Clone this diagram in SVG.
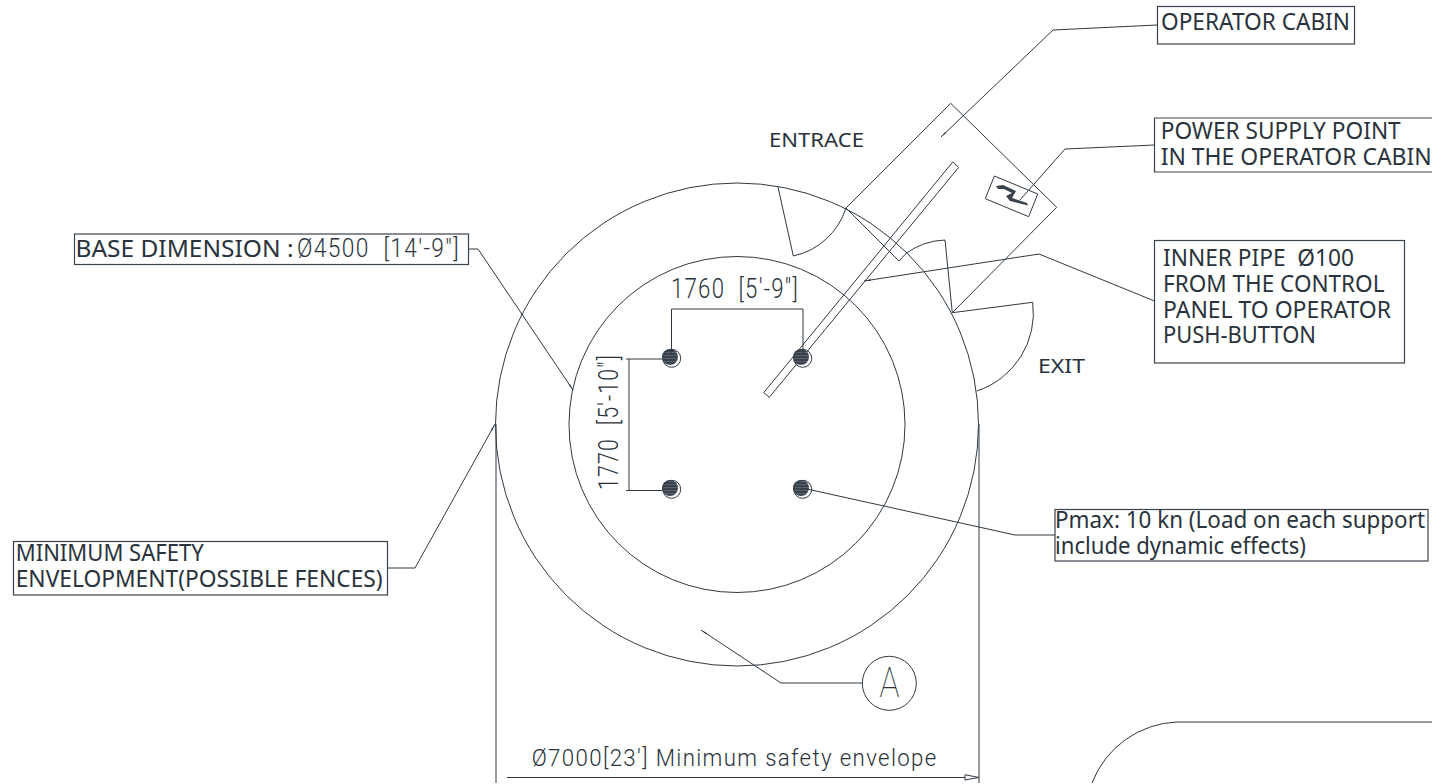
<svg xmlns="http://www.w3.org/2000/svg" width="1432" height="784" viewBox="0 0 1432 784">
<style>
.l{fill:none;stroke:#2f3943;stroke-width:1}
.b{fill:none;stroke:#3a444e;stroke-width:1.2}
.t{font-family:"Noto Sans","DejaVu Sans",sans-serif;font-size:23px;fill:#2a333c}
.i{font-family:Roboto,"Liberation Sans",sans-serif;font-size:27px;font-weight:300;fill:#2a333c;letter-spacing:1.5px}
.h{fill:url(#hatch);stroke:none}
</style>
<defs>
<marker id="tip" markerUnits="userSpaceOnUse" markerWidth="8" markerHeight="6" refX="7" refY="3" orient="auto"><path d="M0 2.2L7 3L0 3.8Z" fill="#2f3943"/></marker>
<marker id="open" markerUnits="userSpaceOnUse" markerWidth="16" markerHeight="8" refX="15" refY="4" orient="auto"><path d="M1 1.2L15 4L1 6.5Z" fill="#fff" stroke="#2f3943"/></marker>
<pattern id="hatch" patternUnits="userSpaceOnUse" width="3" height="3"><rect width="3" height="3" fill="#3a434c"/><rect y="1" width="3" height="1" fill="#59626a"/></pattern>
</defs>
<rect width="1432" height="784" fill="#fff"/>
<g id="base-circles">
<circle class="l" cx="737" cy="424.5" r="241.5"/>
<circle class="l" cx="737" cy="424.5" r="168"/>
</g>
<g id="cabin">
<path class="l" d="M846 208L950.7 103.3L1056.7 207.3L952.3 312.7"/>
<path class="l" d="M846 208L899 261L906.5 253"/>
<path class="l" d="M778 187L793.3 256A71 71 0 0 0 846 208"/>
<path class="l" d="M906.5 253A71 71 0 0 1 945 240L952.3 312.7L1032.7 302.3A82 82 0 0 1 976.7 391"/>
</g>
<g id="pipe"><path class="l" d="M952.7 162L958.7 167.3L769.3 397.3L763.7 392.7Z"/></g>
<g id="power-symbol">
<path class="l" d="M994.3 176L1037.7 194L1028.7 216.7L985.3 198.7Z"/>
<path fill="#3a434c" d="M996 186L1003 185L1016 191L1012 198L1027 203L1028 205.500L1010 201L1006 196L1012 193L1004 189L998 189Z"/>
</g>
<g id="supports">
<g><circle class="h" cx="670" cy="357" r="8"/><circle class="l" cx="671.7" cy="358.3" r="9"/></g>
<g><circle class="h" cx="801" cy="357" r="8"/><circle class="l" cx="802.7" cy="358.3" r="9"/></g>
<g><circle class="h" cx="670" cy="488" r="8"/><circle class="l" cx="671.7" cy="489.3" r="9"/></g>
<g><circle class="h" cx="801" cy="488" r="8"/><circle class="l" cx="802.7" cy="489.3" r="9"/></g>
</g>
<g id="connectors">
<path class="l" d="M1157 25L1053 30L941 137" marker-end="url(#tip)"/>
<path class="l" d="M1154.500 145L1065 149L1020 200"/>
<path class="l" d="M1154.500 301L1039 254L864 281" marker-end="url(#tip)"/>
<path class="l" d="M1055 535L1015 535L807 489"/>
<path class="l" d="M468.500 249L478 249L573 390" marker-end="url(#tip)"/>
<path class="l" d="M387.500 568L415 568L495 424" marker-end="url(#tip)"/>
<path class="l" d="M862 683L781 683L701 630" marker-end="url(#tip)"/>
</g>
<g id="dimensions">
<path class="l" d="M671.500 309H803M671.500 309V355M803 309V355"/>
<path class="l" d="M629 359V490.500M626 359H662M626 490.500H662"/>
<path class="l" d="M496 424V783M979 424V783"/>
<path class="l" d="M507 777.500H979" marker-end="url(#open)"/>
<text class="i" x="671" y="298" textLength="128" lengthAdjust="spacingAndGlyphs" xml:space="preserve">1760  [5'-9"]</text>
<text class="i" transform="translate(617.700 490) rotate(-90)" x="0" y="0" textLength="136" lengthAdjust="spacingAndGlyphs" xml:space="preserve">1770  [5'-10"]</text>
<text class="i" style="font-size:24.5px" x="531.700" y="765.700" textLength="406" lengthAdjust="spacingAndGlyphs">Ø7000[23'] Minimum safety envelope</text>
</g>
<g id="entrance-label"><text class="t" style="font-size:20.500px" x="769" y="146.700" textLength="95" lengthAdjust="spacingAndGlyphs">ENTRACE</text></g>
<g id="exit-label"><text class="t" style="font-size:20.500px" x="1038" y="372.700" textLength="47" lengthAdjust="spacingAndGlyphs">EXIT</text></g>
<g id="operator-cabin">
<rect class="b" x="1157.500" y="6.500" width="197" height="37.500"/>
<text class="t" x="1161" y="30" textLength="189" lengthAdjust="spacingAndGlyphs">OPERATOR CABIN</text>
</g>
<g id="power-supply">
<path class="b" d="M1432 118H1154.500V172H1432"/>
<text class="t" x="1160.700" y="138.700" textLength="240" lengthAdjust="spacingAndGlyphs">POWER SUPPLY POINT</text>
<text class="t" x="1160.700" y="164.700" textLength="271" lengthAdjust="spacingAndGlyphs">IN THE OPERATOR CABIN</text>
</g>
<g id="inner-pipe">
<rect class="b" x="1154.500" y="240.500" width="250" height="122.500"/>
<text class="t" x="1163" y="265.700" textLength="191" lengthAdjust="spacingAndGlyphs" xml:space="preserve">INNER PIPE  Ø100</text>
<text class="t" x="1163" y="291.700" textLength="221.500" lengthAdjust="spacingAndGlyphs">FROM THE CONTROL</text>
<text class="t" x="1163" y="317.700" textLength="228" lengthAdjust="spacingAndGlyphs">PANEL TO OPERATOR</text>
<text class="t" x="1163" y="343" textLength="153" lengthAdjust="spacingAndGlyphs">PUSH-BUTTON</text>
</g>
<g id="pmax">
<rect class="b" x="1055" y="509.500" width="373" height="51.500"/>
<text class="t" x="1055" y="527.700" textLength="370" lengthAdjust="spacingAndGlyphs">Pmax: 10 kn (Load on each support</text>
<text class="t" x="1055" y="554" textLength="251" lengthAdjust="spacingAndGlyphs">include dynamic effects)</text>
</g>
<g id="base-dimension">
<rect class="b" x="74.500" y="234" width="394" height="30.500"/>
<text x="75.500" y="256.700"><tspan class="t" textLength="218" lengthAdjust="spacingAndGlyphs">BASE DIMENSION :</tspan><tspan class="i" style="font-size:25px" x="297" textLength="163" lengthAdjust="spacingAndGlyphs" xml:space="preserve">Ø4500  [14'-9"]</tspan></text>
</g>
<g id="min-safety">
<rect class="b" x="13.500" y="541.500" width="374" height="53.500"/>
<text class="t" x="15.700" y="561" textLength="188" lengthAdjust="spacingAndGlyphs">MINIMUM SAFETY</text>
<text class="t" x="15.700" y="587" textLength="367" lengthAdjust="spacingAndGlyphs">ENVELOPMENT(POSSIBLE FENCES)</text>
</g>
<g id="callout-a">
<circle class="l" cx="889.300" cy="683.300" r="27"/>
<text x="879.500" y="696.700" style="font-family:Roboto,sans-serif;font-weight:100;font-size:42px;fill:#2a333c" textLength="20" lengthAdjust="spacingAndGlyphs">A</text>
</g>
<g id="foundation"><path class="l" d="M1092 783A95 95 0 0 1 1177 722H1432"/></g>
</svg>
